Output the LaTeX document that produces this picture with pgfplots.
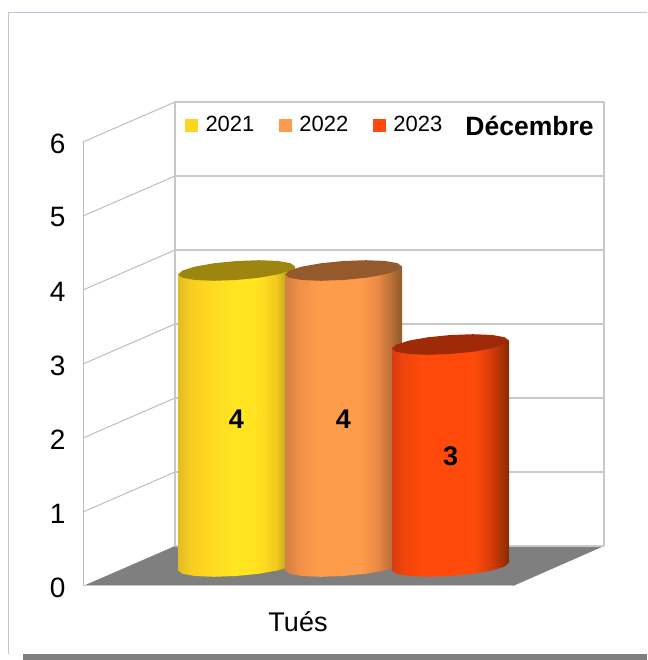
\documentclass[border=0pt]{standalone}
\usepackage{pgfplots}
\usepackage{fontspec}
\setmainfont{Liberation Sans}
\pgfplotsset{compat=1.18}
\definecolor{gridc}{HTML}{C8C8C8}
\definecolor{sidec}{HTML}{BDBDBD}
\definecolor{floorc}{HTML}{7F7F7F}
\definecolor{framec}{HTML}{B8C8DC}
\definecolor{topy}{HTML}{9C8610}
\definecolor{topo}{HTML}{945A2C}
\definecolor{topr}{HTML}{9E2A08}
\definecolor{ky}{HTML}{FFD420}
\definecolor{ko}{HTML}{FF9A4C}
\definecolor{kr}{HTML}{FF4A0D}
\definecolor{ya}{HTML}{E0BC24}
\definecolor{yb}{HTML}{F5CC20}
\definecolor{yc}{HTML}{FFD420}
\definecolor{yd}{HTML}{FFE620}
\definecolor{ye}{HTML}{FFE020}
\definecolor{yf}{HTML}{F0C81E}
\definecolor{yg}{HTML}{9E8A12}
\definecolor{oa}{HTML}{D08040}
\definecolor{ob}{HTML}{F09048}
\definecolor{oc}{HTML}{FF9C4C}
\definecolor{od}{HTML}{E88844}
\definecolor{oe}{HTML}{8F5A2C}
\definecolor{ra}{HTML}{D83C0C}
\definecolor{rb}{HTML}{F0440C}
\definecolor{rc}{HTML}{FF4A0C}
\definecolor{rd}{HTML}{D83C08}
\definecolor{re}{HTML}{8A2A06}
% stops between 25bp and 75bp span the width of the path
\pgfdeclarehorizontalshading{cylyellow}{100bp}{
  color(0bp)=(ya); color(25bp)=(ya); color(30bp)=(yb); color(35bp)=(yc);
  color(50bp)=(yd); color(60bp)=(ye); color(67bp)=(yf); color(75bp)=(yg); color(100bp)=(yg)}
\pgfdeclarehorizontalshading{cylorange}{100bp}{
  color(0bp)=(oa); color(25bp)=(oa); color(31bp)=(ob); color(40bp)=(oc);
  color(57bp)=(oc); color(65bp)=(od); color(75bp)=(oe); color(100bp)=(oe)}
\pgfdeclarehorizontalshading{cylred}{100bp}{
  color(0bp)=(ra); color(25bp)=(ra); color(30bp)=(rb); color(37bp)=(rc);
  color(60bp)=(rc); color(67bp)=(rd); color(75bp)=(re); color(100bp)=(re)}
\begin{document}
\begin{tikzpicture}[x=1pt,y=1pt]
\useasboundingbox (0,0) rectangle (647,660);
% axis for the tick labels
\begin{axis}[
    at={(83pt,74pt)}, anchor=south west,
    scale only axis, width=430pt, height=444pt,
    xmin=-1, xmax=1, ymin=0, ymax=6,
    xtick={0}, xticklabels={Tués},
    ytick={0,1,2,3,4,5,6},
    axis line style={draw=none},
    major tick length=0pt,
    /pgf/number format/assume math mode=true,
    yticklabel style={font=\fontsize{28}{32}\selectfont, xshift=-14pt, yshift=-1.5pt},
    xticklabel style={font=\fontsize{27}{31}\selectfont, yshift=-22pt},
]
\end{axis}
% main drawing axis: x in picture units, y in chart values
\begin{axis}[
    at={(0pt,0pt)}, anchor=south west,
    scale only axis, width=647pt, height=660pt,
    xmin=0, xmax=647, ymin=-1, ymax=7.919,
    hide axis, clip=false,
    legend style={at={(185/647,535/660)}, anchor=west, draw=none, fill=none,
      font=\fontsize{22}{26}\selectfont, legend columns=-1,
      inner sep=0pt, outer sep=0pt,
      /tikz/every odd column/.append style={column sep=5.5pt},
      /tikz/every even column/.append style={column sep=22.5pt}},
    legend image code/.code={\fill[#1] (0pt,-6.5pt) rectangle (13pt,6.5pt);},
]
% outer frame
\addplot[framec, line width=1pt, forget plot] coordinates {(8.5,-0.919)(8.5,7.75)(647,7.75)};
\addplot[fill=floorc, draw=none, forget plot] coordinates {(23,-1)(647,-1)(647,-0.919)(23,-0.919)};
% floor
\addplot[fill=floorc, draw=none, forget plot] coordinates {(83,0)(513,0)(604,0.54)(175,0.54)};
\addplot[gridc, line width=1pt, forget plot] coordinates {(83,0)(513,0)};
% back wall
\addplot[gridc, line width=1.5pt, forget plot, yshift=40pt] coordinates {(175,0)(604,0)};
\addplot[gridc, line width=1.5pt, forget plot, yshift=40pt] coordinates {(175,1)(604,1)};
\addplot[gridc, line width=1.5pt, forget plot, yshift=40pt] coordinates {(175,2)(604,2)};
\addplot[gridc, line width=1.5pt, forget plot, yshift=40pt] coordinates {(175,3)(604,3)};
\addplot[gridc, line width=1.5pt, forget plot, yshift=40pt] coordinates {(175,4)(604,4)};
\addplot[gridc, line width=1.5pt, forget plot, yshift=40pt] coordinates {(175,5)(604,5)};
\addplot[gridc, line width=1.5pt, forget plot, yshift=40pt] coordinates {(175,6)(604,6)};
\addplot[gridc, line width=1.5pt, forget plot, yshift=40pt] coordinates {(175,0)(175,6)};
\addplot[gridc, line width=1.5pt, forget plot, yshift=40pt] coordinates {(604,0)(604,6)};
% side wall
\addplot[sidec, line width=1pt, forget plot] coordinates {(83,0)(83,6)};
\addplot[sidec, line width=1pt, forget plot] coordinates {(83,1)(175,1.54)};
\addplot[sidec, line width=1pt, forget plot] coordinates {(83,2)(175,2.54)};
\addplot[sidec, line width=1pt, forget plot] coordinates {(83,3)(175,3.54)};
\addplot[sidec, line width=1pt, forget plot] coordinates {(83,4)(175,4.54)};
\addplot[sidec, line width=1pt, forget plot] coordinates {(83,5)(175,5.54)};
\addplot[sidec, line width=1pt, forget plot] coordinates {(83,6)(175,6.54)};
% 2021
\addplot[shade, shading=cylyellow, draw=none, forget plot, yshift=19.5pt] coordinates {
  (178,-0.054)(182.5,-0.099)(195.1,-0.129)(214.1,-0.139)(236.5,-0.128)(258.9,-0.098)(277.9,-0.053)(290.5,-0.001)(295,0.054)
  (295,4.054)(178,3.946)};
\addplot[fill=topy, draw=none, forget plot, yshift=19.5pt] coordinates {
  (295,4.054)(290.5,4.099)(277.9,4.129)(259,4.139)(236.5,4.128)(214.1,4.098)(195.1,4.053)(182.5,3.999)
  (178,3.946)(182.5,3.901)(195.1,3.871)(214.1,3.861)(236.5,3.872)(258.9,3.902)(277.9,3.947)(290.5,4.001)};
% 2022
\addplot[shade, shading=cylorange, draw=none, forget plot, yshift=19.5pt] coordinates {
  (285,-0.054)(289.5,-0.099)(302.1,-0.129)(321.1,-0.139)(343.5,-0.128)(365.9,-0.098)(384.9,-0.053)(397.5,-0.001)(402,0.054)
  (402,4.054)(285,3.946)};
\addplot[fill=topo, draw=none, forget plot, yshift=19.5pt] coordinates {
  (402,4.054)(397.5,4.099)(384.9,4.129)(365.9,4.139)(343.5,4.128)(321.1,4.098)(302.1,4.053)(289.5,3.999)
  (285,3.946)(289.5,3.901)(302.1,3.871)(321.1,3.861)(343.5,3.872)(365.9,3.902)(384.9,3.947)(397.5,4.001)};
% 2023
\addplot[shade, shading=cylred, draw=none, forget plot, yshift=19.5pt] coordinates {
  (392,-0.054)(396.5,-0.099)(409.1,-0.129)(428.1,-0.139)(450.5,-0.128)(472.9,-0.098)(491.9,-0.053)(504.5,-0.001)(509,0.054)
  (509,3.054)(392,2.946)};
\addplot[fill=topr, draw=none, forget plot, yshift=19.5pt] coordinates {
  (509,3.054)(504.5,3.099)(491.9,3.129)(472.9,3.139)(450.5,3.128)(428.1,3.098)(409.1,3.053)(396.5,2.999)
  (392,2.946)(396.5,2.901)(409.1,2.871)(428.1,2.861)(450.5,2.872)(472.9,2.902)(491.9,2.947)(504.5,3.001)};
% value labels
\addplot[only marks, mark=none, forget plot, yshift=19pt, point meta=explicit symbolic,
    nodes near coords, nodes near coords align={center},
    every node near coord/.append style={font=\bfseries\fontsize{27}{31}\selectfont, text=black, anchor=center}]
    coordinates {(236.5,2)[4] (343.5,2)[4] (450.5,1.5)[3]};
\addlegendimage{fill=ky, draw=none}
\addlegendentry{2021}
\addlegendimage{fill=ko, draw=none}
\addlegendentry{2022}
\addlegendimage{fill=kr, draw=none}
\addlegendentry{2023}
\node[font=\bfseries\fontsize{26.5}{30}\selectfont, anchor=center] at (axis cs:529.5,6.216) {Décembre};
\end{axis}
\end{tikzpicture}
\end{document}
